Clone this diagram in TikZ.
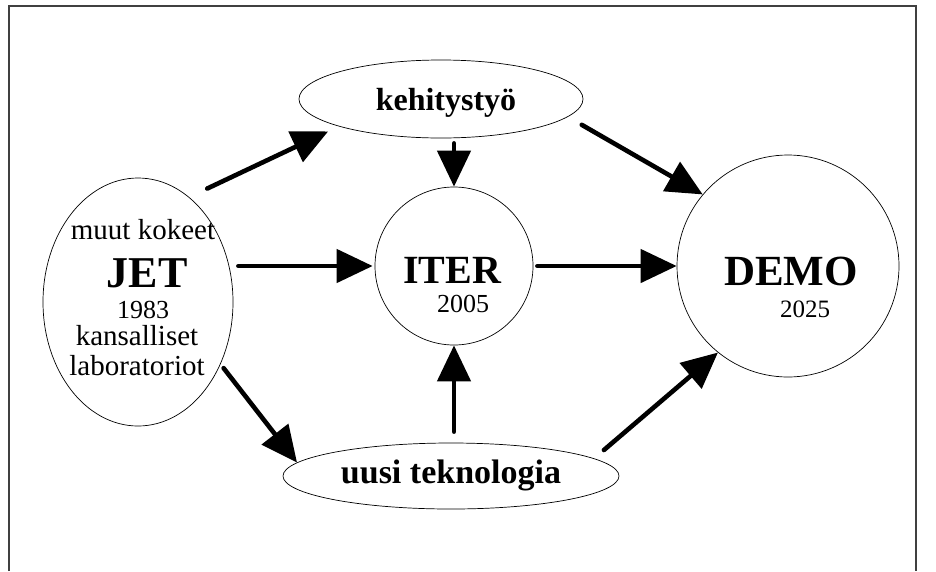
\documentclass[tikz,border=0pt]{standalone}
\usepackage{fontspec}
\setmainfont{Liberation Serif}
\usetikzlibrary{arrows.meta,shapes.geometric}
\begin{document}
\begin{tikzpicture}[x=1pt,y=-1pt,
  shp/.style={draw, line width=0.7pt, inner sep=0pt},
  oval/.style={shp, ellipse},
  ring/.style={shp, circle},
  lbl/.style={anchor=base, inner sep=0pt},
  arr/.style={line width=4.6pt, line cap=round, -{Triangle[length=36pt,width=33pt]}},
  frameline/.style={line width=1.2pt, black!75}]
\useasboundingbox (0,0) rectangle (936,571);
\draw[frameline] (9,571) -- (9,6) -- (916,6) -- (916,571);

\node[oval, minimum width=190pt, minimum height=248pt] (jet) at (138,302) {};
\node[oval, minimum width=284pt, minimum height=78pt] (keh) at (441,99) {};
\node[ring, minimum size=158pt] (iter) at (454,266) {};
\node[ring, minimum size=222pt] (demo) at (788,266) {};
\node[oval, minimum width=336pt, minimum height=66pt] (uusi) at (451,476) {};

\node[lbl, font=\fontsize{29}{29}\selectfont] (t1) at (143,239) {muut kokeet};
\node[lbl, font=\fontsize{44}{44}\selectfont\bfseries] (t2) at (147,287) {JET};
\node[lbl, font=\fontsize{26}{26}\selectfont] (t3) at (143,318) {1983};
\node[lbl, font=\fontsize{29}{29}\selectfont] (t4) at (137,345) {kansalliset};
\node[lbl, font=\fontsize{29}{29}\selectfont] (t5) at (137,375) {laboratoriot};
\node[lbl, font=\fontsize{32}{32}\selectfont\bfseries] (t6) at (446,110) {kehitystyö};
\node[lbl, font=\fontsize{40}{40}\selectfont\bfseries] (t7) at (452,283) {ITER};
\node[lbl, font=\fontsize{26}{26}\selectfont] (t8) at (463,312) {2005};
\node[lbl, font=\fontsize{43}{43}\selectfont\bfseries] (t9) at (791,285) {DEMO};
\node[lbl, font=\fontsize{25}{25}\selectfont] (t10) at (805,317) {2025};
\node[lbl, font=\fontsize{34}{34}\selectfont\bfseries] (t11) at (451,483) {uusi teknologia};

\draw[arr, shorten <=20pt, shorten >=11.8pt] (jet.64.4) -- (keh.195.7);
\draw[arr, shorten <=5pt] (iter.north |- keh.south) -- (iter.north);
\draw[arr, shorten <=16pt] (keh.-8.9) -- (demo.140);
\draw[arr, shorten <=5pt, shorten >=2pt] (jet.east |- iter.west) -- (iter.west);
\draw[arr, shorten <=4pt] (iter.east) -- (demo.west);
\draw[arr, shorten <=5pt] (jet.-37.2) -- (uusi.175);
\draw[arr, shorten <=11pt] (iter.south |- uusi.north) -- (iter.south);
\draw[arr, shorten <=13pt] (uusi.7) -- (demo.231);
\end{tikzpicture}
\end{document}
